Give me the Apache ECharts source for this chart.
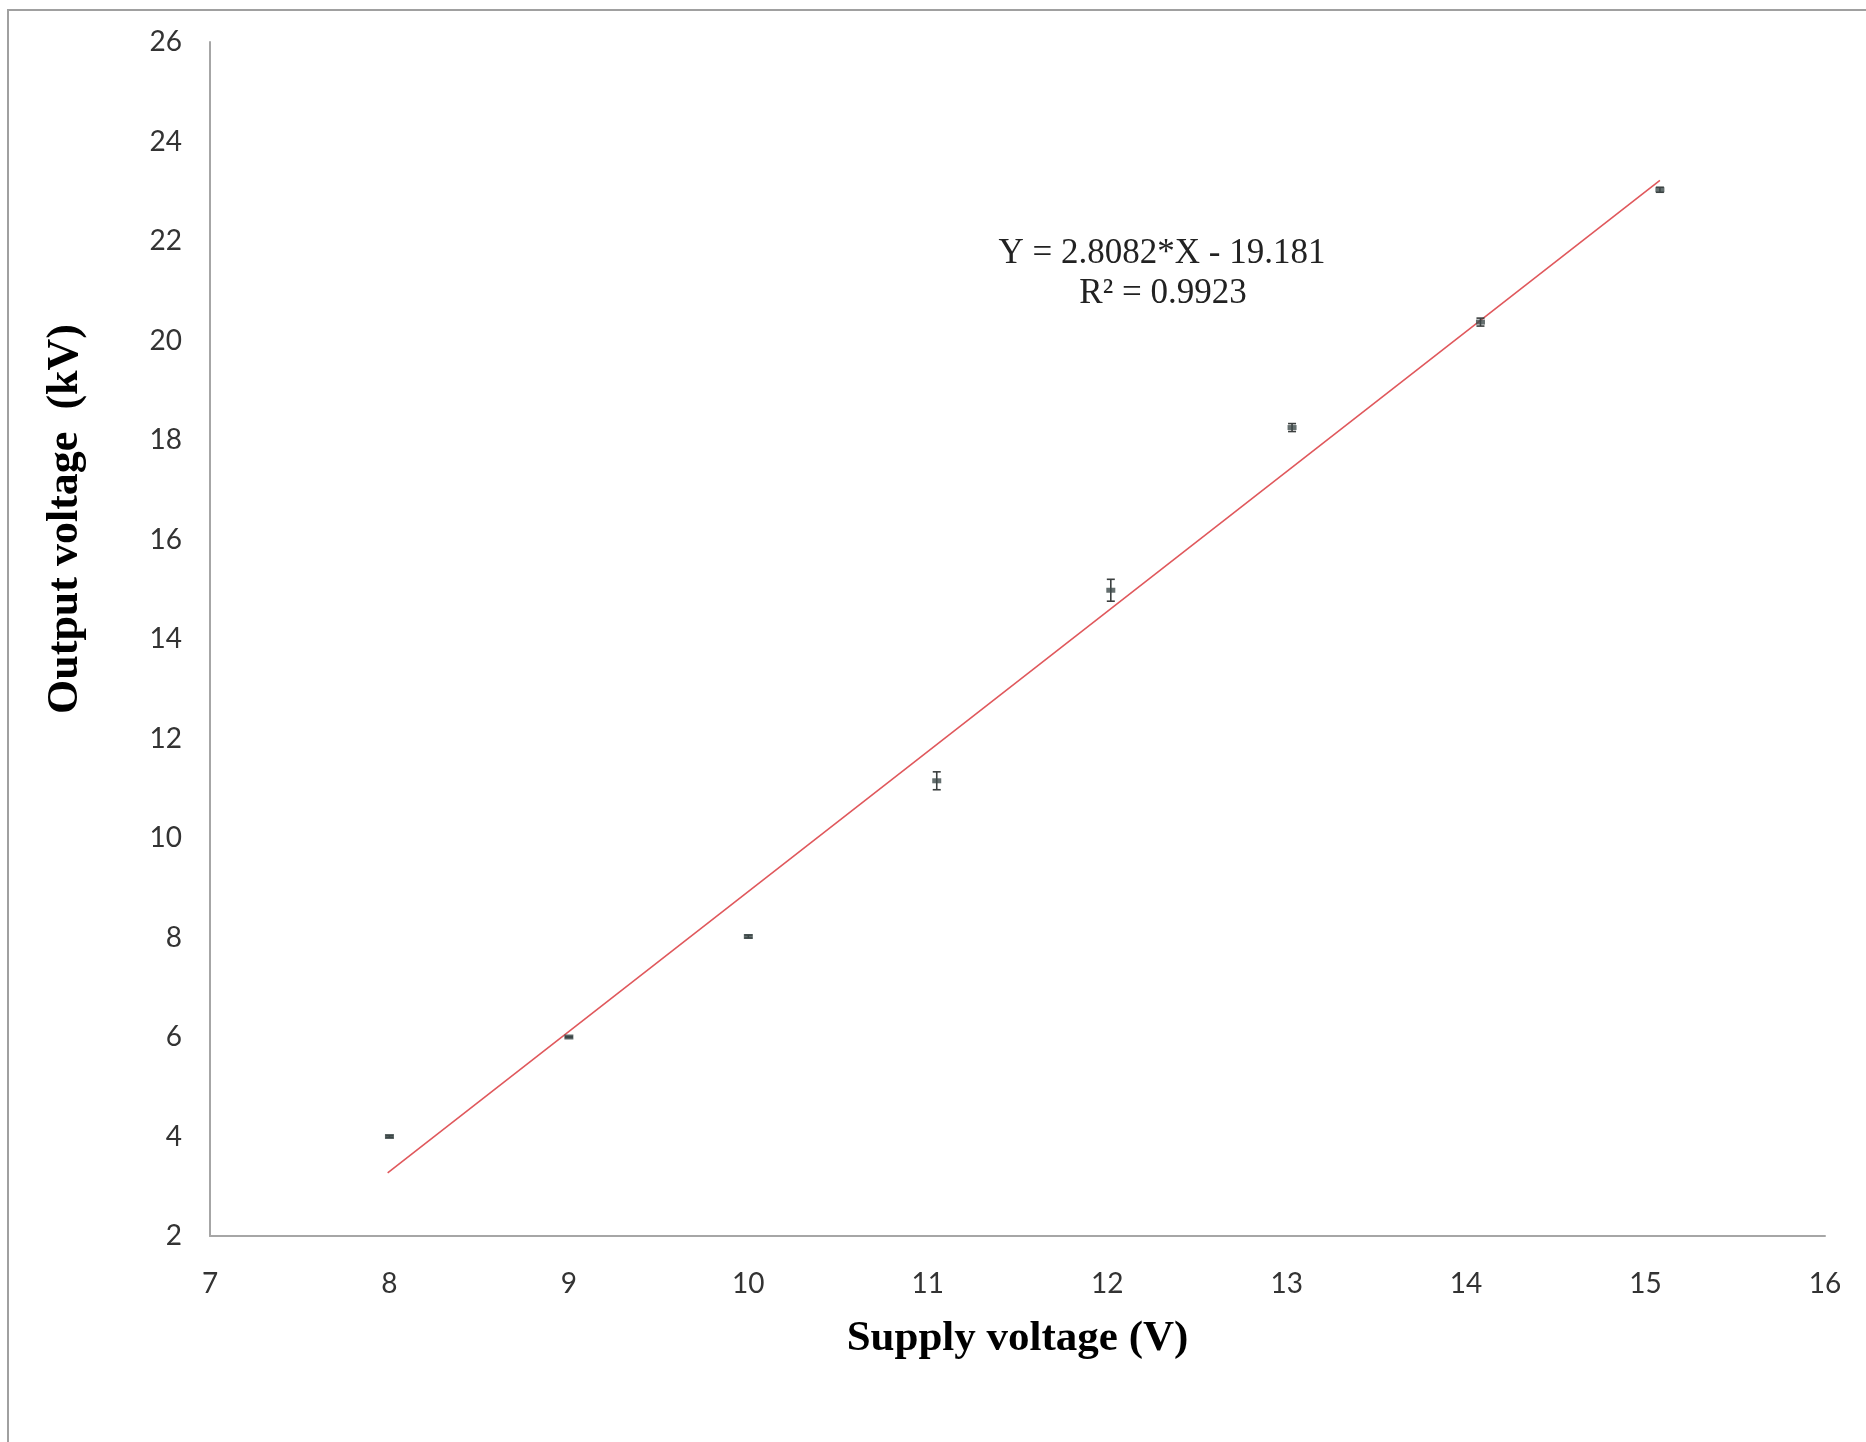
<!DOCTYPE html>
<html>
<head>
<meta charset="utf-8">
<script src="https://cdn.jsdelivr.net/npm/echarts@6/dist/echarts.min.js"></script>
<style>
  html, body { margin: 0; padding: 0; background: #fff; }
  #chart { width: 1866px; height: 1442px; }
</style>
</head>
<body>
<div id="chart"></div>
<script>
// measured points (supply voltage V, output voltage kV)
var supplyV = [8, 9, 10, 11.05, 12.02, 13.03, 14.08, 15.08];
var outputKV = [4.0, 6.0, 8.02, 11.15, 14.98, 18.25, 20.37, 23.03];
var errKV = [0.02, 0.01, 0.03, 0.18, 0.22, 0.08, 0.08, 0.05];

// linear trend line end points, as drawn
var trendX = [7.99, 15.08];
var trendY = [3.27, 23.22];

var eqLine1 = 'Y = 2.8082*X - 19.181';
var eqLine2 = 'R\u00B2 = 0.9923';

var chart = echarts.init(document.getElementById('chart'));

var pts = supplyV.map(function (x, i) { return [x, outputKV[i]]; });
var errData = supplyV.map(function (x, i) { return [x, outputKV[i] - errKV[i], outputKV[i] + errKV[i]]; });
var trend = trendX.map(function (x, i) { return [x, trendY[i]]; });

var tickFont = { color: '#333', fontFamily: 'Lato', fontSize: 28 };

chart.setOption({
  backgroundColor: '#fff',
  animation: false,
  grid: { left: 210, right: 41, top: 42, bottom: 206 },
  xAxis: {
    type: 'value', min: 7, max: 16, interval: 1,
    axisLine: { lineStyle: { color: '#a6a6a6', width: 2 } },
    axisTick: { show: false },
    splitLine: { show: false },
    axisLabel: Object.assign({ margin: 34 }, tickFont),
    name: 'Supply voltage (V)',
    nameLocation: 'middle', nameGap: 81,
    nameTextStyle: { fontFamily: 'Liberation Serif', fontWeight: 'bold', fontSize: 43, color: '#000' }
  },
  yAxis: {
    type: 'value', min: 2, max: 26, interval: 2,
    axisLine: { lineStyle: { color: '#a6a6a6', width: 2 } },
    axisTick: { show: false },
    splitLine: { show: false },
    axisLabel: Object.assign({ margin: 28 }, tickFont)
  },
  graphic: [
    { type: 'line', shape: { x1: 7, y1: 10, x2: 1866, y2: 10 }, style: { stroke: '#a0a0a0', lineWidth: 2 } },
    { type: 'line', shape: { x1: 8, y1: 10, x2: 8, y2: 1442 }, style: { stroke: '#a0a0a0', lineWidth: 2 } },
    {
      type: 'text', x: 66, y: 519, rotation: Math.PI / 2,
      style: {
        text: 'Output voltage  (kV)', fill: '#000',
        font: 'bold 44px "Liberation Serif"', align: 'center', verticalAlign: 'middle'
      }
    },
    {
      type: 'text', x: 1162, y: 254,
      style: { text: eqLine1, fill: '#222', font: '35px "Liberation Serif"', align: 'center', verticalAlign: 'middle' }
    },
    {
      type: 'text', x: 1163, y: 294,
      style: { text: eqLine2, fill: '#222', font: '35px "Liberation Serif"', align: 'center', verticalAlign: 'middle' }
    }
  ],
  series: [
    {
      type: 'line',
      data: trend,
      symbol: 'none',
      lineStyle: { color: '#e0585c', width: 1.6 },
      z: 2
    },
    {
      type: 'custom',
      data: errData,
      renderItem: function (params, api) {
        var top = api.coord([api.value(0), api.value(2)]);
        var bot = api.coord([api.value(0), api.value(1)]);
        var w = 4;
        var st = { stroke: '#3b3f3f', lineWidth: 1.6 };
        return {
          type: 'group',
          children: [
            { type: 'line', shape: { x1: top[0], y1: top[1], x2: bot[0], y2: bot[1] }, style: st },
            { type: 'line', shape: { x1: top[0] - w, y1: top[1], x2: top[0] + w, y2: top[1] }, style: st },
            { type: 'line', shape: { x1: bot[0] - w, y1: bot[1], x2: bot[0] + w, y2: bot[1] }, style: st }
          ]
        };
      },
      z: 3
    },
    {
      type: 'scatter',
      data: pts,
      symbol: 'rect',
      symbolSize: [9, 5],
      itemStyle: { color: '#3d4a4a' },
      z: 4
    }
  ]
});
</script>
</body>
</html>
